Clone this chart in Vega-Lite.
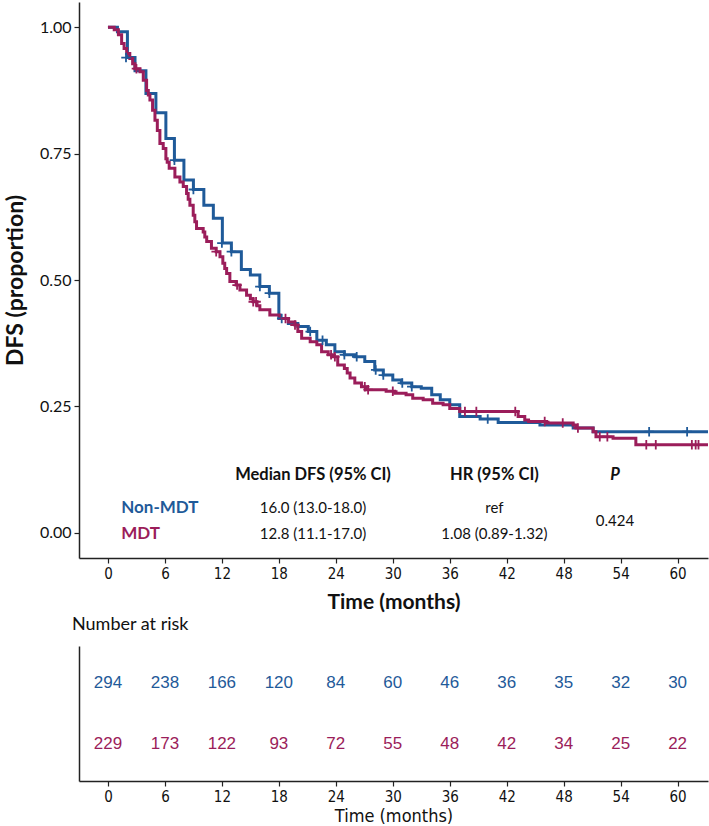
{
  "$schema": "https://vega.github.io/schema/vega-lite/v6.json",
  "padding": {"left": 4, "top": 2, "right": 1, "bottom": 0},
  "background": "white",
  "spacing": 4,
  "config": {
    "view": {"stroke": null},
    "axis": {"domainColor": "#222222", "domainWidth": 1.5, "tickColor": "#222222", "tickWidth": 1.2, "tickSize": 5, "grid": false, "labelColor": "#111111", "titleColor": "#111111"}
  },
  "datasets": {
    "km": [
      {"group": "Non-MDT", "t": 0, "s": 1.0}, {"group": "Non-MDT", "t": 1.0, "s": 0.991}, {"group": "Non-MDT", "t": 2.05, "s": 0.94}, {"group": "Non-MDT", "t": 2.85, "s": 0.914}, {"group": "Non-MDT", "t": 4.0, "s": 0.869}, {"group": "Non-MDT", "t": 5.05, "s": 0.831}, {"group": "Non-MDT", "t": 6.1, "s": 0.78}, {"group": "Non-MDT", "t": 7.0, "s": 0.737}, {"group": "Non-MDT", "t": 8.0, "s": 0.698}, {"group": "Non-MDT", "t": 9.0, "s": 0.679}, {"group": "Non-MDT", "t": 10.1, "s": 0.648}, {"group": "Non-MDT", "t": 11.1, "s": 0.622}, {"group": "Non-MDT", "t": 12.05, "s": 0.573}, {"group": "Non-MDT", "t": 13.0, "s": 0.556}, {"group": "Non-MDT", "t": 14.05, "s": 0.521}, {"group": "Non-MDT", "t": 15.0, "s": 0.51}, {"group": "Non-MDT", "t": 16.0, "s": 0.487}, {"group": "Non-MDT", "t": 17.0, "s": 0.474}, {"group": "Non-MDT", "t": 18.0, "s": 0.424}, {"group": "Non-MDT", "t": 19.0, "s": 0.414}, {"group": "Non-MDT", "t": 20.0, "s": 0.408}, {"group": "Non-MDT", "t": 21.1, "s": 0.398}, {"group": "Non-MDT", "t": 22.0, "s": 0.381}, {"group": "Non-MDT", "t": 23.0, "s": 0.372}, {"group": "Non-MDT", "t": 23.9, "s": 0.358}, {"group": "Non-MDT", "t": 24.9, "s": 0.352}, {"group": "Non-MDT", "t": 26.0, "s": 0.348}, {"group": "Non-MDT", "t": 27.05, "s": 0.339}, {"group": "Non-MDT", "t": 28.1, "s": 0.322}, {"group": "Non-MDT", "t": 29.0, "s": 0.312}, {"group": "Non-MDT", "t": 30.0, "s": 0.302}, {"group": "Non-MDT", "t": 30.9, "s": 0.296}, {"group": "Non-MDT", "t": 32.0, "s": 0.289}, {"group": "Non-MDT", "t": 33.0, "s": 0.286}, {"group": "Non-MDT", "t": 34.1, "s": 0.273}, {"group": "Non-MDT", "t": 35.0, "s": 0.263}, {"group": "Non-MDT", "t": 36.0, "s": 0.253}, {"group": "Non-MDT", "t": 37.05, "s": 0.23}, {"group": "Non-MDT", "t": 39.2, "s": 0.225}, {"group": "Non-MDT", "t": 41.1, "s": 0.218}, {"group": "Non-MDT", "t": 45.5, "s": 0.213}, {"group": "Non-MDT", "t": 49.0, "s": 0.207}, {"group": "Non-MDT", "t": 51.1, "s": 0.2}, {"group": "Non-MDT", "t": 63.2, "s": 0.2},
      {"group": "MDT", "t": 0, "s": 1.0}, {"group": "MDT", "t": 0.66, "s": 0.995}, {"group": "MDT", "t": 1.1, "s": 0.985}, {"group": "MDT", "t": 1.44, "s": 0.968}, {"group": "MDT", "t": 1.7, "s": 0.958}, {"group": "MDT", "t": 1.97, "s": 0.948}, {"group": "MDT", "t": 2.3, "s": 0.938}, {"group": "MDT", "t": 2.6, "s": 0.928}, {"group": "MDT", "t": 2.84, "s": 0.918}, {"group": "MDT", "t": 3.37, "s": 0.912}, {"group": "MDT", "t": 3.72, "s": 0.895}, {"group": "MDT", "t": 4.07, "s": 0.875}, {"group": "MDT", "t": 4.25, "s": 0.866}, {"group": "MDT", "t": 4.42, "s": 0.856}, {"group": "MDT", "t": 4.7, "s": 0.836}, {"group": "MDT", "t": 4.95, "s": 0.816}, {"group": "MDT", "t": 5.2, "s": 0.796}, {"group": "MDT", "t": 5.47, "s": 0.77}, {"group": "MDT", "t": 5.82, "s": 0.76}, {"group": "MDT", "t": 6.1, "s": 0.74}, {"group": "MDT", "t": 6.24, "s": 0.733}, {"group": "MDT", "t": 6.45, "s": 0.721}, {"group": "MDT", "t": 7.05, "s": 0.704}, {"group": "MDT", "t": 7.58, "s": 0.694}, {"group": "MDT", "t": 7.93, "s": 0.685}, {"group": "MDT", "t": 8.28, "s": 0.671}, {"group": "MDT", "t": 8.45, "s": 0.66}, {"group": "MDT", "t": 8.63, "s": 0.648}, {"group": "MDT", "t": 8.98, "s": 0.628}, {"group": "MDT", "t": 9.15, "s": 0.615}, {"group": "MDT", "t": 9.33, "s": 0.602}, {"group": "MDT", "t": 10.03, "s": 0.595}, {"group": "MDT", "t": 10.2, "s": 0.585}, {"group": "MDT", "t": 10.4, "s": 0.576}, {"group": "MDT", "t": 10.9, "s": 0.563}, {"group": "MDT", "t": 11.4, "s": 0.556}, {"group": "MDT", "t": 11.8, "s": 0.546}, {"group": "MDT", "t": 12.1, "s": 0.533}, {"group": "MDT", "t": 12.3, "s": 0.523}, {"group": "MDT", "t": 12.5, "s": 0.513}, {"group": "MDT", "t": 12.84, "s": 0.497}, {"group": "MDT", "t": 13.5, "s": 0.49}, {"group": "MDT", "t": 13.9, "s": 0.48}, {"group": "MDT", "t": 14.6, "s": 0.47}, {"group": "MDT", "t": 15.0, "s": 0.463}, {"group": "MDT", "t": 15.3, "s": 0.457}, {"group": "MDT", "t": 15.7, "s": 0.449}, {"group": "MDT", "t": 16.0, "s": 0.441}, {"group": "MDT", "t": 17.05, "s": 0.431}, {"group": "MDT", "t": 18.1, "s": 0.424}, {"group": "MDT", "t": 19.0, "s": 0.417}, {"group": "MDT", "t": 19.7, "s": 0.411}, {"group": "MDT", "t": 20.0, "s": 0.398}, {"group": "MDT", "t": 20.4, "s": 0.385}, {"group": "MDT", "t": 21.3, "s": 0.378}, {"group": "MDT", "t": 22.0, "s": 0.372}, {"group": "MDT", "t": 22.5, "s": 0.358}, {"group": "MDT", "t": 23.2, "s": 0.352}, {"group": "MDT", "t": 23.7, "s": 0.348}, {"group": "MDT", "t": 24.2, "s": 0.332}, {"group": "MDT", "t": 24.9, "s": 0.325}, {"group": "MDT", "t": 25.2, "s": 0.316}, {"group": "MDT", "t": 25.5, "s": 0.306}, {"group": "MDT", "t": 26.0, "s": 0.296}, {"group": "MDT", "t": 26.7, "s": 0.289}, {"group": "MDT", "t": 27.2, "s": 0.283}, {"group": "MDT", "t": 29.3, "s": 0.28}, {"group": "MDT", "t": 30.2, "s": 0.276}, {"group": "MDT", "t": 31.4, "s": 0.273}, {"group": "MDT", "t": 32.1, "s": 0.266}, {"group": "MDT", "t": 33.2, "s": 0.263}, {"group": "MDT", "t": 34.2, "s": 0.256}, {"group": "MDT", "t": 35.3, "s": 0.253}, {"group": "MDT", "t": 36.0, "s": 0.246}, {"group": "MDT", "t": 37.05, "s": 0.24}, {"group": "MDT", "t": 43.2, "s": 0.23}, {"group": "MDT", "t": 43.9, "s": 0.223}, {"group": "MDT", "t": 44.3, "s": 0.22}, {"group": "MDT", "t": 46.2, "s": 0.217}, {"group": "MDT", "t": 49.0, "s": 0.213}, {"group": "MDT", "t": 49.3, "s": 0.207}, {"group": "MDT", "t": 51.1, "s": 0.2}, {"group": "MDT", "t": 51.4, "s": 0.19}, {"group": "MDT", "t": 53.2, "s": 0.187}, {"group": "MDT", "t": 55.6, "s": 0.174}, {"group": "MDT", "t": 63.2, "s": 0.174}
    ],
    "censor": [
      {"group": "Non-MDT", "t": 1.9, "s": 0.94}, {"group": "Non-MDT", "t": 7.0, "s": 0.737}, {"group": "Non-MDT", "t": 9.0, "s": 0.679}, {"group": "Non-MDT", "t": 12.0, "s": 0.573}, {"group": "Non-MDT", "t": 13.0, "s": 0.556}, {"group": "Non-MDT", "t": 16.0, "s": 0.487}, {"group": "Non-MDT", "t": 17.0, "s": 0.474}, {"group": "Non-MDT", "t": 18.3, "s": 0.424}, {"group": "Non-MDT", "t": 21.3, "s": 0.398}, {"group": "Non-MDT", "t": 22.6, "s": 0.381}, {"group": "Non-MDT", "t": 24.9, "s": 0.352}, {"group": "Non-MDT", "t": 26.2, "s": 0.348}, {"group": "Non-MDT", "t": 28.2, "s": 0.322}, {"group": "Non-MDT", "t": 29.0, "s": 0.312}, {"group": "Non-MDT", "t": 31.0, "s": 0.296}, {"group": "Non-MDT", "t": 32.0, "s": 0.289}, {"group": "Non-MDT", "t": 40.0, "s": 0.225}, {"group": "Non-MDT", "t": 57.0, "s": 0.2}, {"group": "Non-MDT", "t": 61.0, "s": 0.2},
      {"group": "MDT", "t": 3.0, "s": 0.918}, {"group": "MDT", "t": 11.4, "s": 0.556}, {"group": "MDT", "t": 13.6, "s": 0.49}, {"group": "MDT", "t": 15.3, "s": 0.457}, {"group": "MDT", "t": 15.6, "s": 0.457}, {"group": "MDT", "t": 18.7, "s": 0.424}, {"group": "MDT", "t": 19.7, "s": 0.411}, {"group": "MDT", "t": 23.5, "s": 0.352}, {"group": "MDT", "t": 23.9, "s": 0.348}, {"group": "MDT", "t": 27.05, "s": 0.289}, {"group": "MDT", "t": 27.4, "s": 0.283}, {"group": "MDT", "t": 30.0, "s": 0.28}, {"group": "MDT", "t": 37.6, "s": 0.24}, {"group": "MDT", "t": 38.8, "s": 0.24}, {"group": "MDT", "t": 42.9, "s": 0.24}, {"group": "MDT", "t": 46.0, "s": 0.22}, {"group": "MDT", "t": 47.9, "s": 0.217}, {"group": "MDT", "t": 49.5, "s": 0.207}, {"group": "MDT", "t": 51.8, "s": 0.19}, {"group": "MDT", "t": 52.6, "s": 0.19}, {"group": "MDT", "t": 56.7, "s": 0.174}, {"group": "MDT", "t": 57.7, "s": 0.174}, {"group": "MDT", "t": 61.5, "s": 0.174}, {"group": "MDT", "t": 61.9, "s": 0.174}, {"group": "MDT", "t": 62.2, "s": 0.174}
    ],
    "table": [
      {"kind": "header", "text": "Median DFS (95% CI)", "t": 21.6, "s": 0.115},
      {"kind": "header", "text": "HR (95% CI)", "t": 40.7, "s": 0.115},
      {"kind": "pheader", "text": "P", "t": 53.4, "s": 0.115},
      {"kind": "group", "group": "Non-MDT", "text": "Non-MDT", "t": 1.4, "s": 0.049},
      {"kind": "group", "group": "MDT", "text": "MDT", "t": 1.4, "s": -0.003},
      {"kind": "value", "text": "16.0 (13.0-18.0)", "t": 21.6, "s": 0.049},
      {"kind": "value", "text": "12.8 (11.1-17.0)", "t": 21.6, "s": -0.003},
      {"kind": "value", "text": "ref", "t": 40.7, "s": 0.049},
      {"kind": "value", "text": "1.08 (0.89-1.32)", "t": 40.7, "s": -0.003},
      {"kind": "value", "text": "0.424", "t": 53.4, "s": 0.023}
    ],
    "risk": [
      {"group": "Non-MDT", "t": 0, "n": 294}, {"group": "Non-MDT", "t": 6, "n": 238}, {"group": "Non-MDT", "t": 12, "n": 166}, {"group": "Non-MDT", "t": 18, "n": 120}, {"group": "Non-MDT", "t": 24, "n": 84}, {"group": "Non-MDT", "t": 30, "n": 60}, {"group": "Non-MDT", "t": 36, "n": 46}, {"group": "Non-MDT", "t": 42, "n": 36}, {"group": "Non-MDT", "t": 48, "n": 35}, {"group": "Non-MDT", "t": 54, "n": 32}, {"group": "Non-MDT", "t": 60, "n": 30},
      {"group": "MDT", "t": 0, "n": 229}, {"group": "MDT", "t": 6, "n": 173}, {"group": "MDT", "t": 12, "n": 122}, {"group": "MDT", "t": 18, "n": 93}, {"group": "MDT", "t": 24, "n": 72}, {"group": "MDT", "t": 30, "n": 55}, {"group": "MDT", "t": 36, "n": 48}, {"group": "MDT", "t": 42, "n": 42}, {"group": "MDT", "t": 48, "n": 34}, {"group": "MDT", "t": 54, "n": 25}, {"group": "MDT", "t": 60, "n": 22}
    ]
  },
  "vconcat": [
    {
      "width": 629,
      "height": 556,
      "encoding": {
        "x": {"field": "t", "type": "quantitative", "scale": {"domain": [-3.05, 63.2], "nice": false, "zero": false},
          "axis": {"values": [0, 6, 12, 18, 24, 30, 36, 42, 48, 54, 60], "title": "Time (months)", "labelFont": "Liberation Sans Narrow, DejaVu Sans Condensed, sans-serif", "labelFontSize": 15, "labelPadding": 3, "titleFont": "Lato", "titleFontSize": 21, "titleFontWeight": "bold", "titlePadding": 10}},
        "y": {"field": "s", "type": "quantitative", "scale": {"domain": [-0.05, 1.05], "nice": false, "zero": false},
          "axis": {"values": [0, 0.25, 0.5, 0.75, 1], "format": ".2f", "title": "DFS (proportion)", "labelFont": "Lato", "labelFontSize": 16, "labelPadding": 3, "titleFont": "Lato", "titleFontSize": 23, "titleFontWeight": "bold", "titlePadding": 12}},
        "color": {"field": "group", "type": "nominal", "scale": {"domain": ["Non-MDT", "MDT"], "range": ["#1f5a99", "#9b1d5a"]}, "legend": null}
      },
      "layer": [
        {"data": {"name": "km"}, "transform": [{"filter": "datum.group === 'Non-MDT'"}], "mark": {"type": "line", "interpolate": "step-after", "strokeWidth": 3, "clip": true}},
        {"data": {"name": "km"}, "transform": [{"filter": "datum.group === 'MDT'"}], "mark": {"type": "line", "interpolate": "step-after", "strokeWidth": 3, "clip": true}},
        {"data": {"name": "censor"}, "mark": {"type": "point", "shape": "M-1,0L1,0M0,-1L0,1", "filled": false, "strokeWidth": 1.8, "size": 90, "opacity": 1, "clip": true}},
        {"data": {"name": "table"}, "transform": [{"filter": "datum.kind === 'header'"}], "mark": {"type": "text", "font": "Lato", "fontSize": 16.5, "fontWeight": "bold", "align": "center"}, "encoding": {"text": {"field": "text"}, "color": {"value": "#111111"}}},
        {"data": {"name": "table"}, "transform": [{"filter": "datum.kind === 'pheader'"}], "mark": {"type": "text", "font": "Lato", "fontSize": 16.5, "fontWeight": "bold", "fontStyle": "italic", "align": "center"}, "encoding": {"text": {"field": "text"}, "color": {"value": "#111111"}}},
        {"data": {"name": "table"}, "transform": [{"filter": "datum.kind === 'group'"}], "mark": {"type": "text", "font": "Lato", "fontSize": 17, "fontWeight": "bold", "align": "left"}, "encoding": {"text": {"field": "text"}}},
        {"data": {"name": "table"}, "transform": [{"filter": "datum.kind === 'value'"}], "mark": {"type": "text", "font": "Lato", "fontSize": 15, "align": "center"}, "encoding": {"text": {"field": "text"}, "color": {"value": "#111111"}}}
      ]
    },
    {
      "width": 629,
      "height": 135,
      "title": {"text": "Number at risk", "anchor": "start", "frame": "group", "font": "Lato", "fontSize": 18, "fontWeight": "normal", "color": "#111111", "dx": -7, "offset": 12},
      "data": {"name": "risk"},
      "mark": {"type": "text", "font": "Liberation Sans", "fontSize": 17},
      "encoding": {
        "x": {"field": "t", "type": "quantitative", "scale": {"domain": [-3.05, 63.2], "nice": false, "zero": false},
          "axis": {"values": [0, 6, 12, 18, 24, 30, 36, 42, 48, 54, 60], "title": "Time (months)", "labelFont": "Liberation Sans Narrow, DejaVu Sans Condensed, sans-serif", "labelFontSize": 15, "labelPadding": 3, "titleFont": "Liberation Sans Narrow, DejaVu Sans Condensed, sans-serif", "titleFontSize": 18, "titleFontWeight": "normal", "titlePadding": 3}},
        "y": {"field": "group", "type": "nominal", "sort": ["Non-MDT", "MDT"], "scale": {"padding": 0.59}, "axis": {"labels": false, "ticks": false, "title": null}},
        "text": {"field": "n", "type": "quantitative"},
        "color": {"field": "group", "type": "nominal", "scale": {"domain": ["Non-MDT", "MDT"], "range": ["#1f5a99", "#9b1d5a"]}, "legend": null}
      }
    }
  ]
}
